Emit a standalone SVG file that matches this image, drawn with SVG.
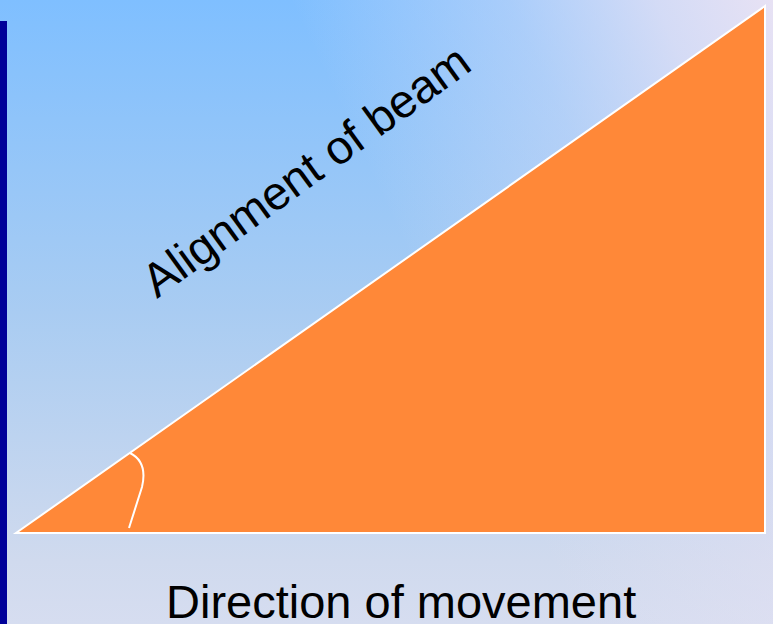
<svg xmlns="http://www.w3.org/2000/svg" width="773" height="624" viewBox="0 0 773 624">
  <defs>
    <linearGradient id="bgV" x1="0" y1="0" x2="0" y2="624" gradientUnits="userSpaceOnUse">
      <stop offset="0" stop-color="#7FBFFF"/>
      <stop offset="0.5" stop-color="#A9CCF2"/>
      <stop offset="0.9" stop-color="#D0DAEE"/>
      <stop offset="1" stop-color="#D6DDF0"/>
    </linearGradient>
    <linearGradient id="bgH" x1="290" y1="0" x2="690" y2="-185" gradientUnits="userSpaceOnUse">
      <stop offset="0" stop-color="#E8E2F4" stop-opacity="0"/>
      <stop offset="0.45" stop-color="#E8E2F4" stop-opacity="0.4"/>
      <stop offset="0.75" stop-color="#E8E2F4" stop-opacity="0.8"/>
      <stop offset="1" stop-color="#E8E2F4" stop-opacity="1"/>
    </linearGradient>
    <style>
      .lbl { font-family: "Liberation Sans", Arial, sans-serif; font-size: 47px; fill: #000000; }
      .edge { fill: none; stroke: #FFFFFF; stroke-width: 2; }
    </style>
  </defs>
  <g id="background">
    <rect x="0" y="0" width="773" height="624" fill="url(#bgV)"/>
    <rect x="0" y="0" width="773" height="624" fill="url(#bgH)"/>
    <rect x="0" y="21" width="7" height="603" fill="#000099"/>
  </g>
  <g id="triangle">
    <polygon points="16,533 765,533 765,6" fill="#FF8838" stroke="#FFFFFF" stroke-width="2" stroke-linejoin="miter"/>
  </g>
  <g id="connectors">
    <path class="edge" d="M130,453 C142,459 146,470 142,487 L129,528"/>
  </g>
  <g id="label-beam">
    <text class="lbl" transform="translate(157,299) rotate(-36)">Alignment of beam</text>
  </g>
  <g id="label-direction">
    <text class="lbl" x="166" y="618">Direction of movement</text>
  </g>
</svg>
